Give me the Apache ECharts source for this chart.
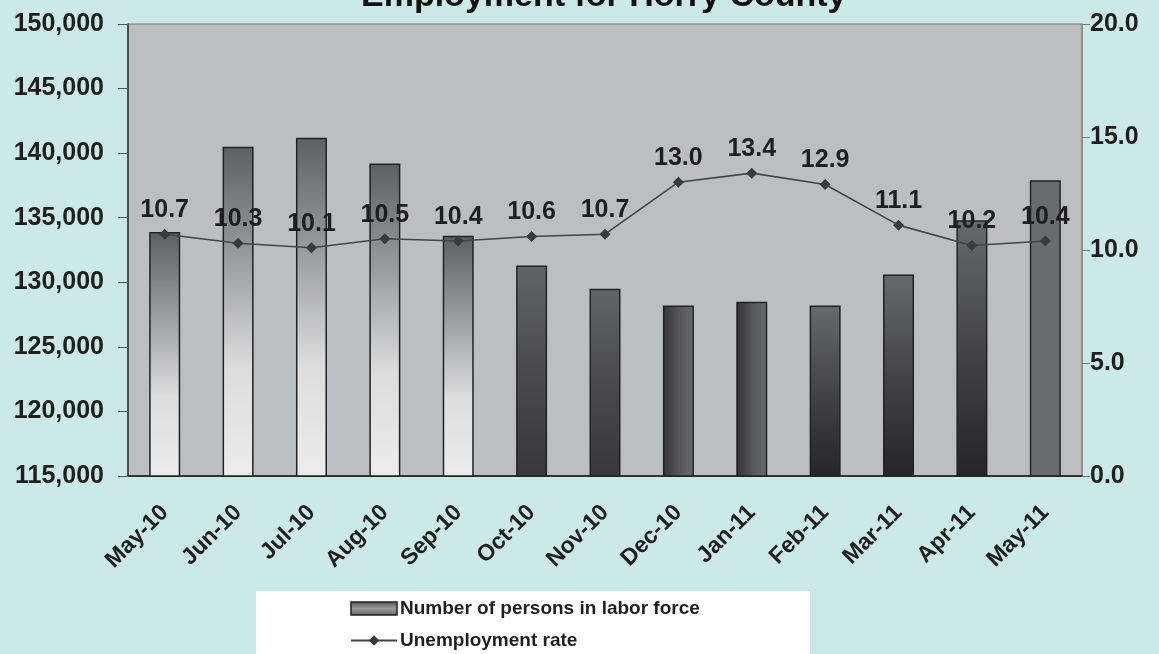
<!DOCTYPE html>
<html>
<head>
<meta charset="utf-8">
<title>Employment for Horry County</title>
<script src="https://cdn.jsdelivr.net/npm/echarts@6/dist/echarts.min.js"></script>
<style>
	html, body { margin: 0; padding: 0; background: #cbe9e6; }
	#main { width: 1159px; height: 654px; }
</style>
</head>
<body>
<div id="main"></div>
<script>
/* global echarts */

var months = ['May-10', 'Jun-10', 'Jul-10', 'Aug-10', 'Sep-10', 'Oct-10', 'Nov-10',
	'Dec-10', 'Jan-11', 'Feb-11', 'Mar-11', 'Apr-11', 'May-11']
var laborForce = [133900, 140500, 141200, 139200, 133600, 131300, 129500,
	128200, 128500, 128200, 130600, 134800, 137900]
var unemploymentRate = [10.7, 10.3, 10.1, 10.5, 10.4, 10.6, 10.7,
	13.0, 13.4, 12.9, 11.1, 10.2, 10.4]
var leftTicks = { min: 115000, max: 150000, step: 5000 }
var rightTicks = { min: 0, max: 20, step: 5 }

var chart = echarts.init(document.getElementById('main'))
var font = 'Liberation Sans, Arial, sans-serif'

function grad(horizontal, stops){
	return new echarts.graphic.LinearGradient(0, 0, horizontal ? 1 : 0, horizontal ? 0 : 1,
		stops.map(function(c, i){ return { offset: i / (stops.length - 1), color: c } }))
}

// the scan shows a few different bar fills, roughly by month
function barFill(i){
	if(i < 5) return grad(false, ['#5e5f61', '#9a9b9d', '#dcdcdd', '#ececed'])
	if(i < 7) return grad(false, ['#636466', '#4a4a4c', '#38383a'])
	if(i < 9) return grad(true, ['#333335', '#555557', '#6a6b6d'])
	if(i < 12) return grad(false, ['#68696b', '#444446', '#252527'])
	return '#6a6b6d'
}

var barData = laborForce.map(function(v, i){
	return { value: v, itemStyle: { color: barFill(i) } }
})

var axisText = { color: '#1e1e1e', fontWeight: 'bold', fontSize: 25, fontFamily: font }

chart.setOption({
	backgroundColor: '#cbe9e6',
	animation: false,
	title: {
		text: 'Employment for Horry County',
		left: 356,
		top: -25,
		textStyle: { color: '#111', fontSize: 34, fontWeight: 'bold', fontFamily: font }
	},
	graphic: [{
		type: 'rect',
		z: 0,
		shape: { x: 256, y: 591, width: 554, height: 70 },
		style: { fill: '#ffffff' }
	}],
	legend: {
		orient: 'vertical',
		left: 350,
		top: 599,
		padding: 0,
		itemWidth: 46,
		itemHeight: 13,
		itemGap: 13,
		z: 5,
		textStyle: { color: '#1e1e1e', fontSize: 19, fontWeight: 'bold', fontFamily: font, padding: [0, 0, 0, -2] },
		data: [{
			name: 'Number of persons in labor force',
			icon: 'rect',
			itemStyle: { color: grad(false, ['#555', '#999', '#666']), borderColor: '#222', borderWidth: 1.5 }
		}, {
			name: 'Unemployment rate'
		}]
	},
	grid: {
		left: 128,
		right: 77,
		top: 24,
		bottom: 178,
		show: true,
		backgroundColor: '#bdbec0',
		borderColor: '#777',
		borderWidth: 1
	},
	xAxis: {
		type: 'category',
		data: months,
		boundaryGap: true,
		axisLine: { lineStyle: { color: '#333', width: 2 } },
		axisTick: { interval: 1, length: 9, inside: false, lineStyle: { color: '#333', width: 1.5 } },
		axisLabel: Object.assign({}, axisText, { rotate: 45, margin: 33, interval: 0, fontSize: 23 })
	},
	yAxis: [{
		type: 'value',
		min: leftTicks.min,
		max: leftTicks.max,
		interval: leftTicks.step,
		splitLine: { show: false },
		axisLine: { show: true, lineStyle: { color: '#333', width: 1.5 } },
		axisTick: { show: true, length: 10, lineStyle: { color: '#555' } },
		axisLabel: Object.assign({
			margin: 24,
			formatter: function(v){ return v.toLocaleString('en-US') }
		}, axisText)
	}, {
		type: 'value',
		min: rightTicks.min,
		max: rightTicks.max,
		interval: rightTicks.step,
		splitLine: { show: false },
		axisLine: { show: true, lineStyle: { color: '#888', width: 1.5 } },
		axisTick: { show: true, length: 8, lineStyle: { color: '#777' } },
		axisLabel: Object.assign({
			margin: 8,
			formatter: function(v){ return v.toFixed(1) }
		}, axisText)
	}],
	series: [{
		name: 'Number of persons in labor force',
		type: 'bar',
		yAxisIndex: 0,
		barWidth: 31,
		data: barData,
		itemStyle: { borderColor: '#222', borderWidth: 1.5 }
	}, {
		name: 'Unemployment rate',
		type: 'line',
		yAxisIndex: 1,
		data: unemploymentRate,
		symbol: 'diamond',
		symbolSize: 11,
		lineStyle: { color: '#444', width: 1.6 },
		itemStyle: { color: '#3a3a3a' },
		label: {
			show: true,
			position: 'top',
			distance: 6,
			color: '#1e1e1e',
			fontSize: 25,
			fontWeight: 'bold',
			fontFamily: font,
			formatter: function(p){ return p.value.toFixed(1) }
		}
	}]
})
</script>
</body>
</html>
